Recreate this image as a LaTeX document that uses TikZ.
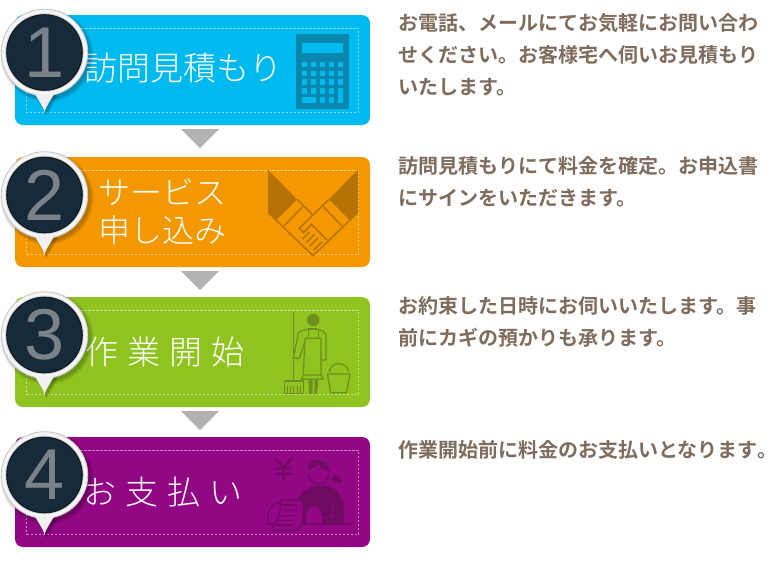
\documentclass[tikz,border=0pt]{standalone}
\usepackage{fontspec}
\newfontfamily\jpb{Noto Sans CJK JP Bold}
\newfontfamily\jpbp[RawFeature=+palt]{Noto Sans CJK JP Bold}
\newfontfamily\jpl{Noto Sans CJK JP Light}
\setsansfont{Liberation Sans}
\definecolor{navy}{HTML}{172A39}
\definecolor{numgrey}{HTML}{7C828A}
\definecolor{body}{HTML}{7F6C5D}
\definecolor{c1}{HTML}{00B9EF}
\definecolor{c2}{HTML}{F39800}
\definecolor{c3}{HTML}{8FC31F}
\definecolor{c4}{HTML}{920783}
\definecolor{ic1}{HTML}{0A87AD}
\definecolor{ic2}{HTML}{B57205}
\definecolor{ic3}{HTML}{6E8F1E}
\definecolor{ic4}{HTML}{6F0B63}
\tikzset{
  x=1pt,y=-1pt,
  band/.style={rounded corners=8pt,line width=0pt},
  guide/.style={draw=white,draw opacity=.5,dash pattern=on 2.4pt off 1.6pt,line width=.5pt},
  title/.style={text=white,font=\jpl\fontsize{32}{38}\selectfont,anchor=west,align=left,inner sep=0pt},
  desc/.style={text=body,font=\jpb\fontsize{20}{32}\selectfont,anchor=north west,align=left,inner sep=0pt},
  num/.style={text=numgrey,font=\sffamily\fontsize{72}{72}\selectfont,inner sep=0pt},
  tri/.style={fill=black!30,draw=none}
}
\newcommand{\pinpath}{(35,94) .. controls (38,100) and (42,104) .. (44.5,112) .. controls (47,104) and (51,100) .. (54,94) -- cycle}
\newcommand{\badge}[3]{% offset, number, name
  \begin{scope}[yshift=-#1pt]
    \foreach \s in {5.5,4.5,3.5,2.5,1.5}{%
      \fill[black,opacity=.05] (47,55.5) circle[radius=42+\s/1.2];
      \begin{scope}[xshift=2pt,yshift=-1pt]
      \fill[black,opacity=.05] (35-\s/2,94) -- (44.5,112+\s/2) -- (54+\s/2,94) -- cycle;
      \end{scope}}
    \fill[white!94!black,draw=black!22,line width=.8pt] (44.5,52.5) circle[radius=43.3];
    \fill[white!94!black] \pinpath;
    \fill[white!97!black] (44.5,52.5) circle[radius=41.5];
    \fill[black!14] (44.5,52.5) circle[radius=39.5];
    \fill[navy] (44.5,52.5) circle[radius=38.3];
    \draw[black,opacity=.35,line width=1pt] (44.5,52.5) circle[radius=37.8];
    \node[num] (#3) at (44.5,52.5) {#2};
  \end{scope}}
\begin{document}
\begin{tikzpicture}
\useasboundingbox (0,0) rectangle (770,560);
\fill[white] (0,0) rectangle (770,560);
% bands
\fill[c1,band] (15,15) rectangle (370,125);
\fill[c2,band] (15,157) rectangle (370,267);
\fill[c3,band] (15,297) rectangle (370,407);
\fill[c4,band] (15,437) rectangle (370,547);
\draw[guide] (26.5,28) rectangle (358.5,112.5);
\draw[guide] (26.5,170) rectangle (358.5,254);
\draw[guide] (26.5,310) rectangle (358.5,394);
\draw[guide] (26.5,450) rectangle (358.5,534);
% triangles
\fill[tri] (181,129) -- (219,129) -- (200,148) -- cycle;
\fill[tri] (181,271) -- (219,271) -- (200,290) -- cycle;
\fill[tri] (181,411) -- (219,411) -- (200,430) -- cycle;
% calculator
\fill[ic1] (296,34) rectangle (349,109);
\fill[c1] (301.7,42.7) rectangle (343.3,52.7);
\foreach \yy in {61.7,70.7,79.3}{\foreach \xx in {301.7,311,320,329,338.3}{\fill[c1] (\xx,\yy) rectangle ++(5,5.2);}}
\foreach \xx in {301.7,311,320,329}{\fill[c1] (\xx,88.3) rectangle ++(5,5.2);}
\fill[c1] (338.3,88.3) rectangle (343.3,102.6);
\fill[c1] (301.7,97.4) rectangle (316,102.6);
\fill[c1] (320,97.4) rectangle (325,102.6);
\fill[c1] (329,97.4) rectangle (334,102.6);
% handshake
\fill[ic2] (268,169.7) -- (297,199.3) -- (276,220.3) -- (268,212.3) -- cycle;
\fill[ic2] (358,169.7) -- (329,199.3) -- (350,220.3) -- (358,212.3) -- cycle;
\begin{scope}[draw=ic2,line width=1.5pt,line join=miter]
\draw (268,212.3) -- (313,255.7) -- (358,212.3);
\draw (302.7,206.7) -- (284.3,225.7);
\draw (323.3,206.7) -- (341.7,225.7);
\draw (297,199.3) -- (312,214.3);
\draw (329,199.3) -- (299.3,228.3) -- (303.7,232.7) -- (311.3,224.3) -- (327,240);
\draw (302.7,239) -- (309.7,231.7) (306.3,242.7) -- (314.7,234.3) (309.7,246) -- (318,238) (313.7,250) -- (322,241.7);
\end{scope}
% cleaner
\begin{scope}[draw=ic3,line width=1.2pt,line join=round]
\fill[ic3] (313.3,320) circle[radius=6.2];
\draw[line width=1.4pt] (293.7,311.7) -- (293.7,381);
\draw (284.3,394) -- (284.3,381) -- (303.3,381) -- (303.3,394) (284,393.5) -- (303.6,393.5);
\foreach \xx in {287.5,290.7,293.9,297,300.2}{\draw[line width=.9pt] (\xx,385.5) -- (\xx,394);}
\draw (308.3,329) -- (301,331) -- (298.3,333) -- (293.3,358.3) -- (299.3,358.3) -- (305,341.7);
\draw (316.7,329) -- (323,331) -- (326,335) -- (326,360) -- (321,360);
\draw (308.3,329) -- (316.7,329) (308.3,329) -- (308.3,338.3) -- (318.3,338.3) -- (318.3,329);
\draw (305,338.3) -- (321,338.3) -- (321,375) -- (303.3,375) -- (305,338.3);
\draw (303.3,375) -- (301.7,379.3) -- (323.3,379.3) -- (321,375);
\fill[ic3] (308.3,380) -- (312.5,380) -- (312.7,394) -- (309.3,394) -- cycle (314.3,380) -- (318.3,380) -- (317,394) -- (314.3,394) -- cycle;
\draw (327.5,374) -- (350,374) -- (346.7,392.7) -- (330.7,392.7) -- cycle;
\draw (329.3,372) .. controls (330,361) and (348,361) .. (348.7,372);
\end{scope}
% woman
\begin{scope}[draw=ic4,line width=1.3pt,line join=round]
\draw[line width=2.2pt] (275.3,458) -- (283.5,468) -- (292,458) (283.5,468) -- (283.5,481) (275.5,468.5) -- (291.5,468.5) (275.5,474) -- (291.5,474);
\fill[ic4] (307.7,469.5) .. controls (308,456.5) and (329,456.5) .. (329.7,471.5) .. controls (324,470.5) and (320,468) .. (318.7,464) .. controls (316,467) and (312,469) .. (307.7,469.5) -- cycle;
\draw (307.7,473.7) .. controls (310,487) and (327,487) .. (328.7,474.7);
\fill[ic4] (331,478.5) .. controls (333,475) and (337,474.5) .. (339,477) .. controls (341,479) and (341,481) .. (341.5,483) .. controls (337,484) and (333,482) .. (331,478.5) -- cycle;
\fill[ic4] (296,503) .. controls (300,492) and (310,485.3) .. (320,485.3) .. controls (335,485.3) and (343.7,494) .. (343.7,508) -- (343.7,523.5) -- (296,523.5) -- cycle;
\fill[c4] (305.5,523.5) .. controls (305.5,512) and (309,506) .. (315,506) .. controls (319,506) and (322,512) .. (322.5,523.5) -- cycle;
\fill[ic4] (322,523) -- (322,518) -- (343,518) -- (343,523) -- cycle;
\fill[ic4] (266.5,522.8) rectangle (353,524.8);
\draw[c4,line width=1pt] (333,504) -- (333,515.3) -- (323.7,517.7);
\draw (267,523.7) .. controls (267.5,510) and (272,503) .. (280,502) (302,500.5) .. controls (304,500) and (312,499.5) .. (317,500);
\fill[c4] (280.5,500.2) -- (302,500) .. controls (306,510) and (303,522) .. (298,530) -- (271.5,530) .. controls (278,520) and (282,511) .. (280.5,500.2) -- cycle;
\draw (280.5,500.2) -- (302,500) .. controls (306,510) and (303,522) .. (298,530) -- (271.5,530) .. controls (278,520) and (282,511) .. (280.5,500.2) -- cycle;
\draw (283,505) -- (297,505) (282.5,510.3) -- (297,510.3) (281,515.3) -- (296,515.3) (279,520.3) -- (294,520.3) (277,525) -- (292,525);
\end{scope}
% titles
\node[title,font=\jpl\fontsize{33}{38}\selectfont] (t1) at (84.5,68) {訪問見積もり};
\node[title] (t2) at (98.5,212) {サービス\\申し込み};
\node[title,font=\jpl\fontsize{33}{38}\selectfont] (t3) at (85,352) {作\hspace{9pt}業\hspace{9pt}開\hspace{9pt}始};
\node[title,font=\jpl\fontsize{33}{38}\selectfont] (t4) at (83,492) {お\hspace{9pt}支\hspace{9pt}払\hspace{9pt}い};
% descriptions
\node[desc] (d1) at (398.5,13) {お電話、メールにてお気軽にお問い合わ\\せください。お客様宅へ伺いお見積もり\\いたします。};
\node[desc] (d2) at (398.5,156) {訪問見積もりにて料金を確定。お申込書\\にサインをいただきます。};
\node[desc] (d3) at (398.5,296) {お約束した日時にお伺いいたします。事\\前にカギの預かりも承ります。};
\node[desc] (d4) at (398,440) {作業開始前に料金のお支払いとなります{\jpbp\fontsize{20}{32}\selectfont 。}};
% badges
\badge{0}{1}{n1}
\badge{142.5}{2}{n2}
\badge{282.5}{3}{n3}
\badge{422.5}{4}{n4}
\end{tikzpicture}
\end{document}
